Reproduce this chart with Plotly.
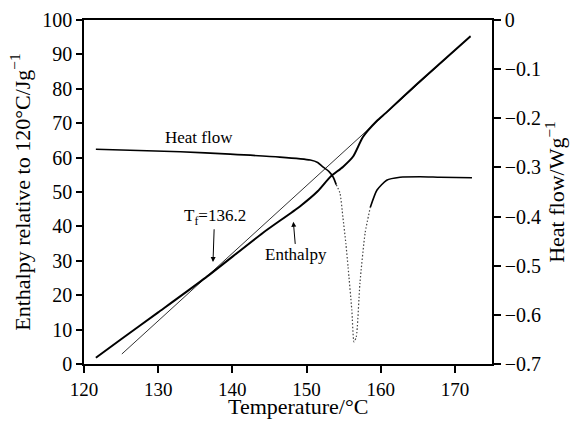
import plotly.graph_objects as go

# Enthalpy (thick curve), J/g relative to 120 C
enth_T = [121.6, 125.0, 130.0, 136.4, 144.1, 149.1, 151.5, 153.2, 154.9, 156.3, 157.6, 159.5, 160.7, 165.0, 172.1]
enth_H = [1.8, 7.2, 15.0, 25.1, 38.1, 45.8, 50.2, 54.4, 57.3, 60.4, 66.0, 70.7, 73.0, 81.6, 95.3]

# Tangent (thin straight line)
tan_T = [125.1, 172.1]
tan_H = [2.9, 95.3]

# Heat flow, W/g (solid, dotted, solid portions)
hf1_T = [121.6, 126.2, 133.0, 139.7, 146.4, 150.5, 151.5, 152.2, 153.0, 153.6, 154.0]
hf1_W = [-0.263, -0.265, -0.268, -0.273, -0.279, -0.285, -0.290, -0.299, -0.308, -0.320, -0.335]
hf2_T = [154.0, 154.5, 154.9, 155.3, 155.6, 156.1, 156.4, 156.7, 157.2, 157.9, 158.6]
hf2_W = [-0.335, -0.352, -0.401, -0.455, -0.503, -0.590, -0.655, -0.645, -0.535, -0.433, -0.381]
hf3_T = [158.6, 159.5, 160.8, 162.6, 165.3, 168.0, 172.3]
hf3_W = [-0.381, -0.346, -0.326, -0.320, -0.319, -0.320, -0.321]

FONT = "Liberation Serif"

fig = go.Figure()
fig.add_trace(go.Scatter(x=tan_T, y=tan_H, mode="lines", line=dict(color="#333", width=1), showlegend=False))
fig.add_trace(go.Scatter(x=enth_T, y=enth_H, mode="lines", line=dict(color="#000", width=2, shape="spline", smoothing=0.6), showlegend=False))
fig.add_trace(go.Scatter(x=hf1_T, y=hf1_W, yaxis="y2", mode="lines", line=dict(color="#000", width=1.6, shape="spline", smoothing=0.6), showlegend=False))
fig.add_trace(go.Scatter(x=hf2_T, y=hf2_W, yaxis="y2", mode="lines", line=dict(color="#444", width=1.2, dash="1.5px,2px", shape="spline", smoothing=0.6), showlegend=False))
fig.add_trace(go.Scatter(x=hf3_T, y=hf3_W, yaxis="y2", mode="lines", line=dict(color="#000", width=1.6, shape="spline", smoothing=0.6), showlegend=False))

titlef = dict(family=FONT, size=22, color="#000")

ann = [
    dict(x=135.5, y=65.7, xref="x", yref="y", text="Heat flow", showarrow=False, font=dict(size=17, family=FONT)),
    dict(x=137.39, y=29.65, ax=137.6, ay=42.8, xref="x", yref="y", axref="x", ayref="y",
         text="T<sub>f</sub>=136.2", font=dict(size=17, family=FONT),
         showarrow=True, arrowhead=2, arrowsize=1, arrowwidth=1, arrowcolor="#000", standoff=0),
    dict(x=148.22, y=41.37, ax=148.6, ay=31.7, xref="x", yref="y", axref="x", ayref="y",
         text="Enthalpy", font=dict(size=17, family=FONT),
         showarrow=True, arrowhead=2, arrowsize=1, arrowwidth=1, arrowcolor="#000", standoff=0),
    dict(x=0.524, y=-0.163, xref="paper", yref="paper", xanchor="center", yanchor="bottom",
         text="Temperature/°C", showarrow=False, font=titlef, borderpad=0),
]

tickf = dict(family=FONT, size=20, color="#000")
xtickf = dict(family=FONT, size=19, color="#000")

fig.update_layout(
    width=571, height=421,
    margin=dict(l=84, r=79, t=20, b=57, autoexpand=False),
    paper_bgcolor="white", plot_bgcolor="white",
    font=dict(family=FONT, size=19, color="#000"),
    annotations=ann,
    xaxis=dict(range=[120, 175], tick0=120, dtick=10, showline=True, linecolor="#000", linewidth=1.5,
               mirror=True, ticks="outside", ticklen=7, tickwidth=1.5, tickcolor="#000", showgrid=False, zeroline=False,
               automargin=False, tickfont=xtickf),
    yaxis=dict(range=[0, 100], tick0=0, dtick=10, showline=True, linecolor="#000", linewidth=1.5,
               ticks="outside", ticklen=6, tickwidth=1.5, tickcolor="#000", showgrid=False, zeroline=False,
               automargin=False, tickfont=tickf, title=dict(text="Enthalpy relative to 120°C/Jg<sup>−1</sup>", font=titlef, standoff=6)),
    yaxis2=dict(range=[-0.7, 0], tick0=0, dtick=0.1, overlaying="y", side="right", showline=True, linecolor="#000",
                linewidth=1.5, ticks="outside", ticklen=7, tickwidth=1.5, tickcolor="#000", showgrid=False, zeroline=False,
                automargin=False, tickfont=tickf, title=dict(text="Heat flow/Wg<sup>−1</sup>", font=titlef, standoff=6)),
)

fig.write_html("out.html")
